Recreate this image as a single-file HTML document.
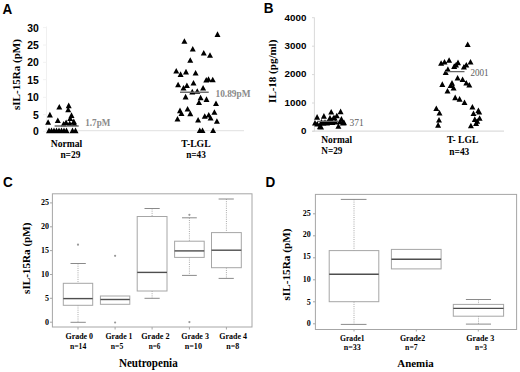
<!DOCTYPE html>
<html><head><meta charset="utf-8"><style>
html,body{margin:0;padding:0;background:#fff;}
svg{display:block;}
</style></head><body>
<svg width="520" height="372" viewBox="0 0 520 372">
<rect width="520" height="372" fill="#fff"/>
<text transform="translate(2.6 13.6) scale(1 1.12)" x="0" y="0" font-family="Liberation Sans, sans-serif" font-weight="bold" font-size="13.5">A</text>
<path d="M46.5 26.5V131" stroke="#f0f0f0" stroke-width="1" fill="none"/>
<path d="M46.5 130.7H244" stroke="#e6e6e6" stroke-width="1.2" fill="none"/>
<path d="M43 27.6H46.5" stroke="#f2f2f2" stroke-width="1"/>
<text x="38.8" y="31.6" font-family="Liberation Sans, sans-serif" font-weight="bold" font-size="10.4" text-anchor="end" fill="#000">30</text>
<path d="M43 45.0H46.5" stroke="#f2f2f2" stroke-width="1"/>
<text x="38.8" y="49.0" font-family="Liberation Sans, sans-serif" font-weight="bold" font-size="10.4" text-anchor="end" fill="#000">25</text>
<path d="M43 62.3H46.5" stroke="#f2f2f2" stroke-width="1"/>
<text x="38.8" y="66.3" font-family="Liberation Sans, sans-serif" font-weight="bold" font-size="10.4" text-anchor="end" fill="#000">20</text>
<path d="M43 79.7H46.5" stroke="#f2f2f2" stroke-width="1"/>
<text x="38.8" y="83.7" font-family="Liberation Sans, sans-serif" font-weight="bold" font-size="10.4" text-anchor="end" fill="#000">15</text>
<path d="M43 97.3H46.5" stroke="#f2f2f2" stroke-width="1"/>
<text x="38.8" y="101.3" font-family="Liberation Sans, sans-serif" font-weight="bold" font-size="10.4" text-anchor="end" fill="#000">10</text>
<path d="M43 114.7H46.5" stroke="#f2f2f2" stroke-width="1"/>
<text x="38.8" y="118.7" font-family="Liberation Sans, sans-serif" font-weight="bold" font-size="10.4" text-anchor="end" fill="#000">5</text>
<path d="M43 131.3H46.5" stroke="#f2f2f2" stroke-width="1"/>
<text x="38.8" y="135.3" font-family="Liberation Sans, sans-serif" font-weight="bold" font-size="10.4" text-anchor="end" fill="#000">0</text>
<text transform="translate(20 74.5) rotate(-90)" x="0" y="0" font-family="Liberation Serif, serif" font-weight="bold" font-size="11" text-anchor="middle" textLength="71" lengthAdjust="spacingAndGlyphs">sIL-15Ra (pM)</text>
<text x="66.5" y="146.5" font-family="Liberation Serif, serif" font-weight="bold" font-size="9.5" text-anchor="middle" fill="#000" textLength="31.5" lengthAdjust="spacingAndGlyphs">Normal</text>
<text x="70.4" y="157.8" font-family="Liberation Serif, serif" font-weight="bold" font-size="9.5" text-anchor="middle" fill="#000" textLength="20" lengthAdjust="spacingAndGlyphs">n=29</text>
<text x="196" y="146.5" font-family="Liberation Serif, serif" font-weight="bold" font-size="9.5" text-anchor="middle" fill="#000" textLength="29.3" lengthAdjust="spacingAndGlyphs">T-LGL</text>
<text x="196" y="158.3" font-family="Liberation Serif, serif" font-weight="bold" font-size="9.5" text-anchor="middle" fill="#000" textLength="19.7" lengthAdjust="spacingAndGlyphs">n=43</text>
<path d="M56.30 109.50L62.30 109.50L59.30 103.90ZM65.70 108.20L71.70 108.20L68.70 102.60ZM65.20 112.30L71.20 112.30L68.20 106.70ZM46.90 117.40L52.90 117.40L49.90 111.80ZM68.50 117.90L74.50 117.90L71.50 112.30ZM54.80 123.00L60.80 123.00L57.80 117.40ZM45.10 124.80L51.10 124.80L48.10 119.20ZM67.20 121.00L73.20 121.00L70.20 115.40ZM70.80 124.10L76.80 124.10L73.80 118.50ZM63.10 125.10L69.10 125.10L66.10 119.50ZM66.70 126.00L72.70 126.00L69.70 120.40ZM71.30 126.10L77.30 126.10L74.30 120.50ZM60.60 126.50L66.60 126.50L63.60 120.90ZM46.00 133.20L52.00 133.20L49.00 127.60ZM48.50 133.20L54.50 133.20L51.50 127.60ZM51.00 133.20L57.00 133.20L54.00 127.60ZM53.50 133.20L59.50 133.20L56.50 127.60ZM56.00 133.20L62.00 133.20L59.00 127.60ZM58.50 133.20L64.50 133.20L61.50 127.60ZM61.00 133.20L67.00 133.20L64.00 127.60ZM63.50 133.20L69.50 133.20L66.50 127.60ZM69.50 133.20L75.50 133.20L72.50 127.60ZM72.50 133.20L78.50 133.20L75.50 127.60ZM214.50 36.90L220.50 36.90L217.50 31.30ZM181.40 43.75L187.40 43.75L184.40 38.15ZM189.75 51.50L195.75 51.50L192.75 45.90ZM200.75 55.60L206.75 55.60L203.75 50.00ZM207.00 57.75L213.00 57.75L210.00 52.15ZM187.25 62.75L193.25 62.75L190.25 57.15ZM173.25 73.50L179.25 73.50L176.25 67.90ZM177.60 76.90L183.60 76.90L180.60 71.30ZM183.00 74.40L189.00 74.40L186.00 68.80ZM192.60 75.60L198.60 75.60L195.60 70.00ZM203.25 82.50L209.25 82.50L206.25 76.90ZM205.50 81.80L211.50 81.80L208.50 76.20ZM209.75 82.25L215.75 82.25L212.75 76.65ZM175.10 87.25L181.10 87.25L178.10 81.65ZM183.90 88.10L189.90 88.10L186.90 82.50ZM190.50 85.60L196.50 85.60L193.50 80.00ZM180.50 90.60L186.50 90.60L183.50 85.00ZM200.10 90.60L206.10 90.60L203.10 85.00ZM189.25 94.40L195.25 94.40L192.25 88.80ZM194.25 93.75L200.25 93.75L197.25 88.15ZM182.60 99.40L188.60 99.40L185.60 93.80ZM197.60 100.25L203.60 100.25L200.60 94.65ZM203.50 101.90L209.50 101.90L206.50 96.30ZM196.00 105.00L202.00 105.00L199.00 99.40ZM213.00 106.00L219.00 106.00L216.00 100.40ZM177.00 113.20L183.00 113.20L180.00 107.60ZM178.50 116.10L184.50 116.10L181.50 110.50ZM184.60 111.60L190.60 111.60L187.60 106.00ZM187.30 116.20L193.30 116.20L190.30 110.60ZM174.50 121.50L180.50 121.50L177.50 115.90ZM195.10 122.50L201.10 122.50L198.10 116.90ZM201.75 118.75L207.75 118.75L204.75 113.15ZM205.75 117.50L211.75 117.50L208.75 111.90ZM211.40 114.75L217.40 114.75L214.40 109.15ZM207.60 120.60L213.60 120.60L210.60 115.00ZM213.90 123.75L219.90 123.75L216.90 118.15ZM196.75 133.10L202.75 133.10L199.75 127.50ZM199.50 133.10L205.50 133.10L202.50 127.50ZM210.10 133.10L216.10 133.10L213.10 127.50Z" fill="#000"/>
<path d="M54.6 126H78.7M180 92.2H208.7" stroke="#6c6c6c" stroke-width="1.4"/>
<text x="85.3" y="126.2" font-family="Liberation Serif, serif" font-weight="bold" font-size="9.3" text-anchor="start" fill="#8a8a8a" textLength="25.0" lengthAdjust="spacingAndGlyphs">1.7pM</text>
<text x="215.5" y="96.9" font-family="Liberation Serif, serif" font-weight="bold" font-size="9.5" text-anchor="start" fill="#8a8a8a" textLength="35.0" lengthAdjust="spacingAndGlyphs">10.89pM</text>
<text transform="translate(263.7 13.3) scale(1 1.12)" x="0" y="0" font-family="Liberation Sans, sans-serif" font-weight="bold" font-size="13.5">B</text>
<path d="M314.4 17.5V131.3" stroke="#d9d9d9" stroke-width="1" fill="none"/>
<path d="M312.5 131.2H504" stroke="#dcdcdc" stroke-width="1.2" fill="none"/>
<path d="M312 17.7H314.4" stroke="#d9d9d9" stroke-width="1"/>
<text x="306.4" y="21.1" font-family="Liberation Sans, sans-serif" font-weight="bold" font-size="9.8" text-anchor="end" fill="#000">4000</text>
<path d="M312 46.2H314.4" stroke="#d9d9d9" stroke-width="1"/>
<text x="306.4" y="49.3" font-family="Liberation Sans, sans-serif" font-weight="bold" font-size="9.8" text-anchor="end" fill="#000">3000</text>
<path d="M312 74.6H314.4" stroke="#d9d9d9" stroke-width="1"/>
<text x="306.4" y="77.3" font-family="Liberation Sans, sans-serif" font-weight="bold" font-size="9.8" text-anchor="end" fill="#000">2000</text>
<path d="M312 103.0H314.4" stroke="#d9d9d9" stroke-width="1"/>
<text x="306.4" y="106.4" font-family="Liberation Sans, sans-serif" font-weight="bold" font-size="9.8" text-anchor="end" fill="#000">1000</text>
<path d="M312 131.3H314.4" stroke="#d9d9d9" stroke-width="1"/>
<text x="306.4" y="134.0" font-family="Liberation Sans, sans-serif" font-weight="bold" font-size="9.8" text-anchor="end" fill="#000">0</text>
<text transform="translate(275.5 71.3) rotate(-90)" x="0" y="0" font-family="Liberation Serif, serif" font-weight="bold" font-size="11" text-anchor="middle" textLength="63.2" lengthAdjust="spacingAndGlyphs">IL-18 (pg/ml)</text>
<text x="336.7" y="143" font-family="Liberation Serif, serif" font-weight="bold" font-size="9.5" text-anchor="middle" fill="#000" textLength="30.8" lengthAdjust="spacingAndGlyphs">Normal</text>
<text x="331.9" y="154.3" font-family="Liberation Serif, serif" font-weight="bold" font-size="9.5" text-anchor="middle" fill="#000" textLength="21.1" lengthAdjust="spacingAndGlyphs">N=29</text>
<text x="462.7" y="143.2" font-family="Liberation Serif, serif" font-weight="bold" font-size="9.5" text-anchor="middle" fill="#000" textLength="31.6" lengthAdjust="spacingAndGlyphs">T- LGL</text>
<text x="459.3" y="154.7" font-family="Liberation Serif, serif" font-weight="bold" font-size="9.5" text-anchor="middle" fill="#000" textLength="20" lengthAdjust="spacingAndGlyphs">n=43</text>
<path d="M314.10 119.70L320.10 119.70L317.10 114.10ZM320.90 118.70L326.90 118.70L323.90 113.10ZM328.20 114.50L334.20 114.50L331.20 108.90ZM337.60 114.20L343.60 114.20L340.60 108.60ZM333.80 118.30L339.80 118.30L336.80 112.70ZM326.70 121.00L332.70 121.00L329.70 115.40ZM331.60 120.60L337.60 120.60L334.60 115.00ZM338.40 121.70L344.40 121.70L341.40 116.10ZM339.90 125.50L345.90 125.50L342.90 119.90ZM312.00 125.50L318.00 125.50L315.00 119.90ZM314.30 126.60L320.30 126.60L317.30 121.00ZM316.90 129.20L322.90 129.20L319.90 123.60ZM320.30 125.80L326.30 125.80L323.30 120.20ZM324.00 125.50L330.00 125.50L327.00 119.90ZM335.40 128.80L341.40 128.80L338.40 123.20ZM336.90 124.30L342.90 124.30L339.90 118.70ZM329.30 125.10L335.30 125.10L332.30 119.50ZM318.00 129.40L324.00 129.40L321.00 123.80ZM318.50 124.50L324.50 124.50L321.50 118.90ZM322.00 124.80L328.00 124.80L325.00 119.20ZM325.50 124.50L331.50 124.50L328.50 118.90ZM329.00 124.20L335.00 124.20L332.00 118.60ZM332.50 124.60L338.50 124.60L335.50 119.00ZM327.00 120.50L333.00 120.50L330.00 114.90ZM330.50 120.50L336.50 120.50L333.50 114.90ZM341.00 125.20L347.00 125.20L344.00 119.60ZM464.70 47.10L470.70 47.10L467.70 41.50ZM438.10 65.80L444.10 65.80L441.10 60.20ZM441.50 64.60L447.50 64.60L444.50 59.00ZM446.10 62.80L452.10 62.80L449.10 57.20ZM455.00 65.20L461.00 65.20L458.00 59.60ZM453.00 67.50L459.00 67.50L456.00 61.90ZM451.20 68.90L457.20 68.90L454.20 63.30ZM467.50 64.60L473.50 64.60L470.50 59.00ZM463.30 67.60L469.30 67.60L466.30 62.00ZM460.90 69.50L466.90 69.50L463.90 63.90ZM444.90 71.90L450.90 71.90L447.90 66.30ZM442.70 74.90L448.70 74.90L445.70 69.30ZM454.60 80.60L460.60 80.60L457.60 75.00ZM459.60 82.10L465.60 82.10L462.60 76.50ZM463.30 85.50L469.30 85.50L466.30 79.90ZM466.30 87.50L472.30 87.50L469.30 81.90ZM439.30 86.90L445.30 86.90L442.30 81.30ZM449.00 85.70L455.00 85.70L452.00 80.10ZM447.60 88.10L453.60 88.10L450.60 82.50ZM450.60 90.60L456.60 90.60L453.60 85.00ZM444.50 93.60L450.50 93.60L447.50 88.00ZM452.20 100.20L458.20 100.20L455.20 94.60ZM456.60 101.70L462.60 101.70L459.60 96.10ZM461.50 105.00L467.50 105.00L464.50 99.40ZM433.30 111.00L439.30 111.00L436.30 105.40ZM469.40 109.50L475.40 109.50L472.40 103.90ZM475.40 113.10L481.40 113.10L478.40 107.50ZM470.50 116.00L476.50 116.00L473.50 110.40ZM436.50 115.60L442.50 115.60L439.50 110.00ZM436.00 122.50L442.00 122.50L439.00 116.90ZM435.10 127.70L441.10 127.70L438.10 122.10ZM476.60 120.80L482.60 120.80L479.60 115.20ZM471.80 121.90L477.80 121.90L474.80 116.30ZM473.10 126.00L479.10 126.00L476.10 120.40ZM467.90 128.30L473.90 128.30L470.90 122.70ZM476.20 114.60L482.20 114.60L479.20 109.00ZM474.20 123.80L480.20 123.80L477.20 118.20Z" fill="#000"/>
<path d="M317 121.4H339M445.5 71.6H464.5" stroke="#666" stroke-width="1.4"/>
<text x="349.6" y="125.8" font-family="Liberation Serif, serif" font-size="10" text-anchor="start" fill="#5e5e5e" textLength="14.2" lengthAdjust="spacingAndGlyphs">371</text>
<text x="470.5" y="75.6" font-family="Liberation Serif, serif" font-size="10" text-anchor="start" fill="#5e5e5e" textLength="18.1" lengthAdjust="spacingAndGlyphs">2001</text>
<text transform="translate(3 187.2) scale(1 1.12)" x="0" y="0" font-family="Liberation Sans, sans-serif" font-weight="bold" font-size="13.5">C</text>
<rect x="52.4" y="193.8" width="199.6" height="133.2" fill="none" stroke="#a6a6a6" stroke-width="1"/>
<path d="M50 202.9H52.4" stroke="#a6a6a6" stroke-width="1"/>
<text x="49" y="204.7" font-family="Liberation Serif, serif" font-weight="bold" font-size="8" text-anchor="end" fill="#000">25</text>
<path d="M50 226.8H52.4" stroke="#a6a6a6" stroke-width="1"/>
<text x="49" y="228.5" font-family="Liberation Serif, serif" font-weight="bold" font-size="8" text-anchor="end" fill="#000">20</text>
<path d="M50 250.6H52.4" stroke="#a6a6a6" stroke-width="1"/>
<text x="49" y="252.7" font-family="Liberation Serif, serif" font-weight="bold" font-size="8" text-anchor="end" fill="#000">15</text>
<path d="M50 274.5H52.4" stroke="#a6a6a6" stroke-width="1"/>
<text x="49" y="276.9" font-family="Liberation Serif, serif" font-weight="bold" font-size="8" text-anchor="end" fill="#000">10</text>
<path d="M50 298.3H52.4" stroke="#a6a6a6" stroke-width="1"/>
<text x="49" y="301.2" font-family="Liberation Serif, serif" font-weight="bold" font-size="8" text-anchor="end" fill="#000">5</text>
<path d="M50 322.2H52.4" stroke="#a6a6a6" stroke-width="1"/>
<text x="49" y="325.0" font-family="Liberation Serif, serif" font-weight="bold" font-size="8" text-anchor="end" fill="#000">0</text>
<path d="M78 327V329.5" stroke="#a6a6a6" stroke-width="1"/>
<path d="M115.1 327V329.5" stroke="#a6a6a6" stroke-width="1"/>
<path d="M152.1 327V329.5" stroke="#a6a6a6" stroke-width="1"/>
<path d="M189.4 327V329.5" stroke="#a6a6a6" stroke-width="1"/>
<path d="M226.4 327V329.5" stroke="#a6a6a6" stroke-width="1"/>
<path d="M78.0 263.5V283.3" stroke="#a8a8a8" stroke-width="1" stroke-dasharray="1 1.2"/>
<path d="M70.5 263.5H85.8" stroke="#8a8a8a" stroke-width="1"/>
<path d="M78.0 305.3V322.3" stroke="#a8a8a8" stroke-width="1" stroke-dasharray="1 1.2"/>
<path d="M70.5 322.3H85.8" stroke="#8a8a8a" stroke-width="1"/>
<rect x="63.3" y="283.3" width="29.40" height="22.00" fill="none" stroke="#a6a6a6" stroke-width="1"/>
<path d="M63.3 298.6H92.7" stroke="#4e4e4e" stroke-width="1.4"/>
<circle cx="78.0" cy="244.7" r="1.1" fill="#999"/>
<rect x="100.4" y="296" width="29.40" height="8.30" fill="none" stroke="#a6a6a6" stroke-width="1"/>
<path d="M100.4 299.5H129.8" stroke="#4e4e4e" stroke-width="1.4"/>
<circle cx="115.1" cy="255.8" r="1.1" fill="#999"/>
<circle cx="115.1" cy="322.5" r="1.1" fill="#999"/>
<path d="M152.1 208.5V216.5" stroke="#a8a8a8" stroke-width="1" stroke-dasharray="1 1.2"/>
<path d="M144.5 208.5H159.7" stroke="#8a8a8a" stroke-width="1"/>
<path d="M152.1 291V298.3" stroke="#a8a8a8" stroke-width="1" stroke-dasharray="1 1.2"/>
<path d="M144.5 298.3H159.7" stroke="#8a8a8a" stroke-width="1"/>
<rect x="137.2" y="216.5" width="29.80" height="74.50" fill="none" stroke="#a6a6a6" stroke-width="1"/>
<path d="M137.2 272.4H167" stroke="#4e4e4e" stroke-width="1.4"/>
<path d="M189.4 217.8V241.2" stroke="#a8a8a8" stroke-width="1" stroke-dasharray="1 1.2"/>
<path d="M182 217.8H196.8" stroke="#8a8a8a" stroke-width="1"/>
<path d="M189.4 257.4V275.4" stroke="#a8a8a8" stroke-width="1" stroke-dasharray="1 1.2"/>
<path d="M182 275.4H196.8" stroke="#8a8a8a" stroke-width="1"/>
<rect x="174.6" y="241.2" width="29.60" height="16.20" fill="none" stroke="#a6a6a6" stroke-width="1"/>
<path d="M174.6 250.9H204.2" stroke="#4e4e4e" stroke-width="1.4"/>
<circle cx="189.4" cy="214.8" r="1.1" fill="#999"/>
<circle cx="189.4" cy="322.1" r="1.1" fill="#999"/>
<path d="M226.4 199V232.6" stroke="#a8a8a8" stroke-width="1" stroke-dasharray="1 1.2"/>
<path d="M218.6 199H233.8" stroke="#8a8a8a" stroke-width="1"/>
<path d="M226.4 267.7V278.4" stroke="#a8a8a8" stroke-width="1" stroke-dasharray="1 1.2"/>
<path d="M218.6 278.4H233.8" stroke="#8a8a8a" stroke-width="1"/>
<rect x="211.5" y="232.6" width="29.80" height="35.10" fill="none" stroke="#a6a6a6" stroke-width="1"/>
<path d="M211.5 250.2H241.3" stroke="#4e4e4e" stroke-width="1.4"/>
<text transform="translate(29.6 258.2) rotate(-90)" x="0" y="0" font-family="Liberation Serif, serif" font-weight="bold" font-size="11" text-anchor="middle" textLength="71.5" lengthAdjust="spacingAndGlyphs">sIL-15Ra (pM)</text>
<text x="79.3" y="339.3" font-family="Liberation Serif, serif" font-weight="bold" font-size="8" text-anchor="middle" fill="#000" textLength="27.6" lengthAdjust="spacingAndGlyphs">Grade 0</text>
<text x="118.95" y="339.3" font-family="Liberation Serif, serif" font-weight="bold" font-size="8" text-anchor="middle" fill="#000" textLength="27.1" lengthAdjust="spacingAndGlyphs">Grade 1</text>
<text x="155.38" y="339.3" font-family="Liberation Serif, serif" font-weight="bold" font-size="8" text-anchor="middle" fill="#000" textLength="28.25" lengthAdjust="spacingAndGlyphs">Grade 2</text>
<text x="195.05" y="339.3" font-family="Liberation Serif, serif" font-weight="bold" font-size="8" text-anchor="middle" fill="#000" textLength="27.7" lengthAdjust="spacingAndGlyphs">Grade 3</text>
<text x="233.15" y="339.3" font-family="Liberation Serif, serif" font-weight="bold" font-size="8" text-anchor="middle" fill="#000" textLength="27.7" lengthAdjust="spacingAndGlyphs">Grade 4</text>
<text x="78.1" y="348.7" font-family="Liberation Serif, serif" font-weight="bold" font-size="8" text-anchor="middle" fill="#000" textLength="16.2" lengthAdjust="spacingAndGlyphs">n=14</text>
<text x="117.05" y="348.7" font-family="Liberation Serif, serif" font-weight="bold" font-size="8" text-anchor="middle" fill="#000" textLength="12.5" lengthAdjust="spacingAndGlyphs">n=5</text>
<text x="154.62" y="348.7" font-family="Liberation Serif, serif" font-weight="bold" font-size="8" text-anchor="middle" fill="#000" textLength="11.75" lengthAdjust="spacingAndGlyphs">n=6</text>
<text x="193.35" y="348.7" font-family="Liberation Serif, serif" font-weight="bold" font-size="8" text-anchor="middle" fill="#000" textLength="17.3" lengthAdjust="spacingAndGlyphs">n=10</text>
<text x="232.7" y="348.7" font-family="Liberation Serif, serif" font-weight="bold" font-size="8" text-anchor="middle" fill="#000" textLength="13.0" lengthAdjust="spacingAndGlyphs">n=8</text>
<text x="148.3" y="366.9" font-family="Liberation Serif, serif" font-weight="bold" font-size="11.6" text-anchor="middle" fill="#000" textLength="58.8" lengthAdjust="spacingAndGlyphs">Neutropenia</text>
<text transform="translate(265.5 186.9) scale(1 1.12)" x="0" y="0" font-family="Liberation Sans, sans-serif" font-weight="bold" font-size="13.5">D</text>
<rect x="315.4" y="194.4" width="201.2" height="135.1" fill="none" stroke="#a6a6a6" stroke-width="1"/>
<path d="M313 213.8H315.4" stroke="#a6a6a6" stroke-width="1"/>
<text x="310.8" y="216.0" font-family="Liberation Serif, serif" font-weight="bold" font-size="8" text-anchor="end" fill="#000">25</text>
<path d="M313 235.8H315.4" stroke="#a6a6a6" stroke-width="1"/>
<text x="310.8" y="237.3" font-family="Liberation Serif, serif" font-weight="bold" font-size="8" text-anchor="end" fill="#000">20</text>
<path d="M313 257.8H315.4" stroke="#a6a6a6" stroke-width="1"/>
<text x="310.8" y="258.9" font-family="Liberation Serif, serif" font-weight="bold" font-size="8" text-anchor="end" fill="#000">15</text>
<path d="M313 279.8H315.4" stroke="#a6a6a6" stroke-width="1"/>
<text x="310.8" y="282.1" font-family="Liberation Serif, serif" font-weight="bold" font-size="8" text-anchor="end" fill="#000">10</text>
<path d="M313 301.8H315.4" stroke="#a6a6a6" stroke-width="1"/>
<text x="310.8" y="304.7" font-family="Liberation Serif, serif" font-weight="bold" font-size="8" text-anchor="end" fill="#000">5</text>
<path d="M313 323.8H315.4" stroke="#a6a6a6" stroke-width="1"/>
<text x="310.8" y="326.2" font-family="Liberation Serif, serif" font-weight="bold" font-size="8" text-anchor="end" fill="#000">0</text>
<path d="M354 329.2V331.5" stroke="#a6a6a6" stroke-width="1"/>
<path d="M416.3 329.2V331.5" stroke="#a6a6a6" stroke-width="1"/>
<path d="M478.3 329.2V331.5" stroke="#a6a6a6" stroke-width="1"/>
<path d="M354.0 199.4V250.6" stroke="#a8a8a8" stroke-width="1" stroke-dasharray="1 1.2"/>
<path d="M340.8 199.4H366.5" stroke="#8a8a8a" stroke-width="1"/>
<path d="M354.0 301.7V324.4" stroke="#a8a8a8" stroke-width="1" stroke-dasharray="1 1.2"/>
<path d="M340.8 324.4H366.5" stroke="#8a8a8a" stroke-width="1"/>
<rect x="329.2" y="250.6" width="49.60" height="51.10" fill="none" stroke="#a6a6a6" stroke-width="1"/>
<path d="M329.2 274.3H378.8" stroke="#4e4e4e" stroke-width="1.4"/>
<rect x="391.4" y="249.4" width="49.70" height="19.50" fill="none" stroke="#a6a6a6" stroke-width="1"/>
<path d="M391.4 259.3H441.1" stroke="#4e4e4e" stroke-width="1.4"/>
<path d="M478.5 299.5V304.4" stroke="#a8a8a8" stroke-width="1" stroke-dasharray="1 1.2"/>
<path d="M465.9 299.5H491" stroke="#8a8a8a" stroke-width="1"/>
<path d="M478.5 316.2V324.1" stroke="#a8a8a8" stroke-width="1" stroke-dasharray="1 1.2"/>
<path d="M465.9 324.1H491" stroke="#8a8a8a" stroke-width="1"/>
<rect x="453.3" y="304.4" width="50.30" height="11.80" fill="none" stroke="#a6a6a6" stroke-width="1"/>
<path d="M453.3 308.4H503.6" stroke="#4e4e4e" stroke-width="1.4"/>
<text transform="translate(290 264.5) rotate(-90)" x="0" y="0" font-family="Liberation Serif, serif" font-weight="bold" font-size="11" text-anchor="middle" textLength="72" lengthAdjust="spacingAndGlyphs">sIL-15Ra (pM)</text>
<text x="352.3" y="341" font-family="Liberation Serif, serif" font-weight="bold" font-size="8" text-anchor="middle" fill="#000" textLength="24.6" lengthAdjust="spacingAndGlyphs">Grade1</text>
<text x="412.6" y="341" font-family="Liberation Serif, serif" font-weight="bold" font-size="8" text-anchor="middle" fill="#000" textLength="25.4" lengthAdjust="spacingAndGlyphs">Grade2</text>
<text x="480.2" y="340.6" font-family="Liberation Serif, serif" font-weight="bold" font-size="8" text-anchor="middle" fill="#000" textLength="28.0" lengthAdjust="spacingAndGlyphs">Grade 3</text>
<text x="352.3" y="350.1" font-family="Liberation Serif, serif" font-weight="bold" font-size="8" text-anchor="middle" fill="#000" textLength="17.0" lengthAdjust="spacingAndGlyphs">n=33</text>
<text x="411.4" y="350.1" font-family="Liberation Serif, serif" font-weight="bold" font-size="8" text-anchor="middle" fill="#000" textLength="12.6" lengthAdjust="spacingAndGlyphs">n=7</text>
<text x="481.0" y="349.8" font-family="Liberation Serif, serif" font-weight="bold" font-size="8" text-anchor="middle" fill="#000" textLength="11.8" lengthAdjust="spacingAndGlyphs">n=3</text>
<text x="415.5" y="366.8" font-family="Liberation Serif, serif" font-weight="bold" font-size="11.2" text-anchor="middle" fill="#000" textLength="36.3" lengthAdjust="spacingAndGlyphs">Anemia</text>
</svg>
</body></html>
